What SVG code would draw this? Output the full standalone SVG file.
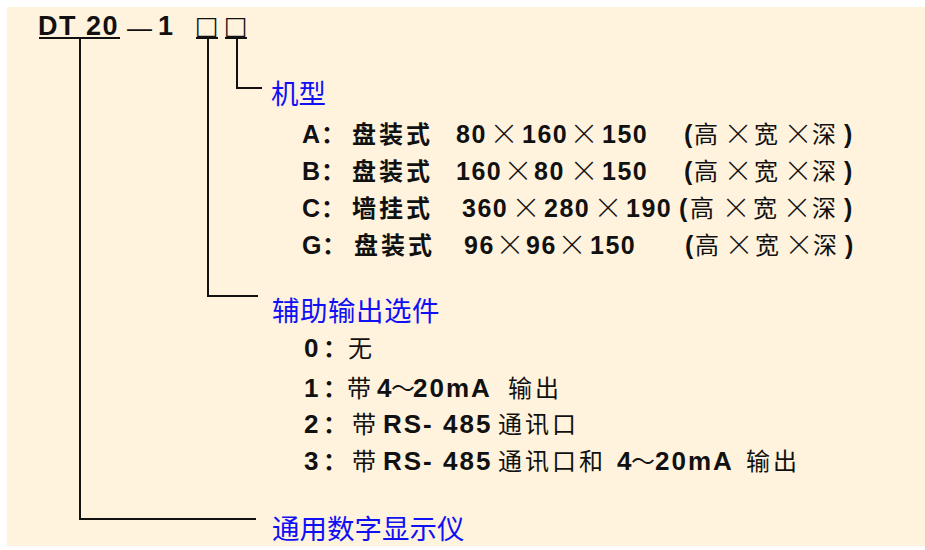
<svg xmlns="http://www.w3.org/2000/svg" width="925" height="550" viewBox="0 0 925 550">
<style>
.t{font-family:"Liberation Sans","Noto Sans CJK SC",sans-serif;font-weight:bold;font-size:25px;fill:#111;letter-spacing:1.5px}
.l{font-family:"Liberation Sans","Noto Sans CJK SC",sans-serif;font-weight:bold;font-size:26px;fill:#111;letter-spacing:2px}
.c{font-family:"Noto Sans CJK SC","Liberation Sans",sans-serif;font-weight:bold;font-size:24px;fill:#111;letter-spacing:3px}
.x{font-family:"Noto Sans CJK SC",sans-serif;font-weight:300;font-size:29px;fill:#111;text-anchor:middle}
.w{font-family:"Noto Sans CJK SC",sans-serif;font-weight:normal;font-size:24px;fill:#111}
.b{font-family:"Noto Sans CJK SC",sans-serif;font-weight:normal;font-size:27.5px;fill:#1010f5}
.h{font-family:"Liberation Sans",sans-serif;font-weight:bold;font-size:27px;fill:#111;letter-spacing:1.5px}
.sq{font-family:"DejaVu Sans",sans-serif;font-size:25px;fill:#111}
.ln{fill:none;stroke:#111;stroke-width:2}
</style>
<rect x="0" y="0" width="925" height="550" fill="#ffffff"/>
<rect x="7" y="7" width="918" height="539" fill="#fff3de"/>
<g id="code">
<text class="h" x="38" y="35">DT 20</text>
<text class="h" x="127" y="37" style="font-size:25px;letter-spacing:0;font-weight:normal">—</text>
<text class="h" x="158" y="35">1</text>
<text class="sq" x="195" y="34">□</text>
<text class="sq" x="224" y="34">□</text>
</g>
<g id="connectors">
<line class="ln" x1="39" y1="38" x2="120" y2="38"/>
<line class="ln" x1="196" y1="38" x2="218" y2="38"/>
<line class="ln" x1="225" y1="38" x2="247" y2="38"/>
<polyline class="ln" points="80,38 80,519 256,519"/>
<polyline class="ln" points="208,38 208,296 258,296"/>
<polyline class="ln" points="237,38 237,88 262,88"/>
</g>
<g id="model">
<text class="b" x="271" y="104">机型</text>
<g id="rowA">
<text class="t" x="302" y="143">A</text><text class="c" x="321" y="143">：</text>
<text class="c" x="352" y="143">盘装式</text>
<text class="t" x="456" y="143">80</text><text class="x" x="504" y="145">×</text>
<text class="t" x="522" y="143">160</text><text class="x" x="584" y="145">×</text>
<text class="t" x="602" y="143">150</text>
<text class="t" x="684" y="143">(</text><text class="w" x="694" y="143">高</text><text class="x" x="738" y="145">×</text><text class="w" x="754" y="143">宽</text><text class="x" x="798" y="145">×</text><text class="w" x="812" y="143">深</text><text class="t" x="844" y="143">)</text>
</g>
<g id="rowB">
<text class="t" x="302" y="180">B</text><text class="c" x="321" y="180">：</text>
<text class="c" x="352" y="180">盘装式</text>
<text class="t" x="456" y="180">160</text><text class="x" x="518" y="182">×</text>
<text class="t" x="534" y="180">80</text><text class="x" x="584" y="182">×</text>
<text class="t" x="602" y="180">150</text>
<text class="t" x="684" y="180">(</text><text class="w" x="694" y="180">高</text><text class="x" x="738" y="182">×</text><text class="w" x="754" y="180">宽</text><text class="x" x="798" y="182">×</text><text class="w" x="812" y="180">深</text><text class="t" x="844" y="180">)</text>
</g>
<g id="rowC">
<text class="t" x="302" y="217">C</text><text class="c" x="321" y="217">：</text>
<text class="c" x="352" y="217">墙挂式</text>
<text class="t" x="462" y="217">360</text><text class="x" x="526" y="219">×</text>
<text class="t" x="544" y="217">280</text><text class="x" x="608" y="219">×</text>
<text class="t" x="626" y="217">190</text>
<text class="t" x="679" y="217">(</text><text class="w" x="690" y="217">高</text><text class="x" x="736" y="219">×</text><text class="w" x="753" y="217">宽</text><text class="x" x="797" y="219">×</text><text class="w" x="812" y="217">深</text><text class="t" x="844" y="217">)</text>
</g>
<g id="rowG">
<text class="t" x="302" y="254">G</text><text class="c" x="322" y="254">：</text>
<text class="c" x="354" y="254">盘装式</text>
<text class="t" x="464" y="254">96</text><text class="x" x="510" y="256">×</text>
<text class="t" x="526" y="254">96</text><text class="x" x="572" y="256">×</text>
<text class="t" x="590" y="254">150</text>
<text class="t" x="685" y="254">(</text><text class="w" x="695" y="254">高</text><text class="x" x="739" y="256">×</text><text class="w" x="755" y="254">宽</text><text class="x" x="799" y="256">×</text><text class="w" x="813" y="254">深</text><text class="t" x="845" y="254">)</text>
</g>
</g>
<g id="output">
<text class="b" x="272" y="321" style="letter-spacing:0.5px">辅助输出选件</text>
<g id="opt0"><text class="l" x="304" y="357">0</text><text class="c" x="323" y="357">：</text><text class="w" x="348" y="357">无</text></g>
<g id="opt1"><text class="l" x="304" y="397">1</text><text class="c" x="323" y="397">：</text><text class="w" x="347" y="397">带</text><text class="l" x="377" y="397">4</text><text class="w" x="391" y="397">～</text><text class="l" x="413" y="397">20mA</text><text class="w" x="508" y="397" style="letter-spacing:3px">输出</text></g>
<g id="opt2"><text class="l" x="304" y="433">2</text><text class="c" x="323" y="433">：</text><text class="w" x="352" y="433">带</text><text class="l" x="383" y="433">RS- 485</text><text class="w" x="498" y="433" style="letter-spacing:3px">通讯口</text></g>
<g id="opt3"><text class="l" x="304" y="470">3</text><text class="c" x="323" y="470">：</text><text class="w" x="352" y="470">带</text><text class="l" x="383" y="470">RS- 485</text><text class="w" x="498" y="470" style="letter-spacing:3px">通讯口和</text><text class="l" x="617" y="470">4</text><text class="w" x="631" y="470">～</text><text class="l" x="655" y="470">20mA</text><text class="w" x="746" y="470" style="letter-spacing:3px">输出</text></g>
</g>
<g id="general">
<text class="b" x="272" y="539">通用数字显示仪</text>
</g>
</svg>
